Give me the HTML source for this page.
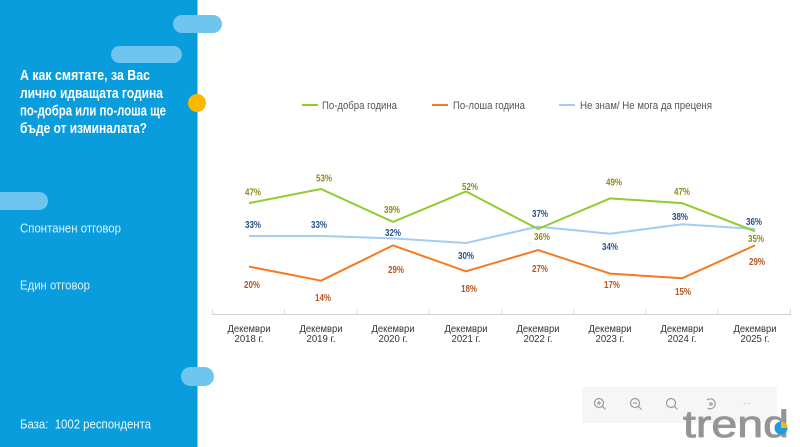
<!DOCTYPE html>
<html><head><meta charset="utf-8"><style>
html,body{margin:0;padding:0;background:#fff;}
svg{display:block;}
.t{font-family:"Liberation Sans Narrow","Liberation Sans","Noto Sans CJK SC",sans-serif;}
</style></head><body>
<svg width="800" height="447" viewBox="0 0 800 447" xmlns="http://www.w3.org/2000/svg">
<rect x="0" y="0" width="800" height="447" fill="#fff"/>
<rect x="0" y="0" width="198" height="447" fill="#0a9ddd"/>
<rect x="197" y="0" width="1" height="447" fill="#7ccdf0"/>
<!-- pills -->
<rect x="173" y="15" width="49" height="18" rx="9" fill="#6ec5ed"/>
<rect x="111" y="46" width="71" height="17" rx="8.5" fill="#6ec5ed"/>
<rect x="-10" y="192" width="58" height="18" rx="9" fill="#6ec5ed"/>
<rect x="181" y="367" width="33" height="19" rx="9.5" fill="#6ec5ed"/>
<circle cx="197" cy="103" r="9" fill="#fbb800"/>
<!-- left text -->
<g class="t" fill="#fff" font-weight="bold" font-size="14.5">
<text x="20" y="80" textLength="130" lengthAdjust="spacingAndGlyphs">А как смятате, за Вас</text>
<text x="20" y="98" textLength="143" lengthAdjust="spacingAndGlyphs">лично идващата година</text>
<text x="20" y="115.5" textLength="146" lengthAdjust="spacingAndGlyphs">по-добра или по-лоша ще</text>
<text x="20" y="133" textLength="127" lengthAdjust="spacingAndGlyphs">бъде от изминалата?</text>
</g>
<g class="t" fill="#d8effb" font-size="12.5">
<text x="20" y="232.5" textLength="101" lengthAdjust="spacingAndGlyphs">Спонтанен отговор</text>
<text x="20" y="289.5" textLength="70" lengthAdjust="spacingAndGlyphs">Един отговор</text>
</g>
<text class="t" x="20" y="428.5" fill="#eef8fd" font-size="12.5" textLength="131" lengthAdjust="spacingAndGlyphs">База:&#160; 1002 респондента</text>
<!-- legend -->
<g stroke-width="2">
<line x1="302" y1="105" x2="318" y2="105" stroke="#8fcc2e"/>
<line x1="432" y1="105" x2="448" y2="105" stroke="#f57a22"/>
<line x1="559" y1="105" x2="575" y2="105" stroke="#a3cdf6"/>
</g>
<g class="t" fill="#555" font-size="11">
<text x="322" y="109" textLength="75" lengthAdjust="spacingAndGlyphs">По-добра година</text>
<text x="453" y="109" textLength="72" lengthAdjust="spacingAndGlyphs">По-лоша година</text>
<text x="580" y="109" textLength="132" lengthAdjust="spacingAndGlyphs">Не знам/ Не мога да преценя</text>
</g>
<!-- axis -->
<line x1="212" y1="314.5" x2="791" y2="314.5" stroke="#cfcfcf" stroke-width="1"/>
<g stroke="#dcdcdc" stroke-width="1">
<line x1="212.5" y1="309" x2="212.5" y2="314"/>
<line x1="284.5" y1="309" x2="284.5" y2="314"/>
<line x1="357" y1="309" x2="357" y2="314"/>
<line x1="429" y1="309" x2="429" y2="314"/>
<line x1="502" y1="309" x2="502" y2="314"/>
<line x1="574" y1="309" x2="574" y2="314"/>
<line x1="646" y1="309" x2="646" y2="314"/>
<line x1="718" y1="309" x2="718" y2="314"/>
<line x1="790.5" y1="309" x2="790.5" y2="314"/>
</g>
<g class="t" fill="#333" font-size="10.5" text-anchor="middle">
<text x="249" y="332" textLength="43" lengthAdjust="spacingAndGlyphs">Декември</text><text x="249" y="342" textLength="29" lengthAdjust="spacingAndGlyphs">2018 г.</text>
<text x="321" y="332" textLength="43" lengthAdjust="spacingAndGlyphs">Декември</text><text x="321" y="342" textLength="29" lengthAdjust="spacingAndGlyphs">2019 г.</text>
<text x="393" y="332" textLength="43" lengthAdjust="spacingAndGlyphs">Декември</text><text x="393" y="342" textLength="29" lengthAdjust="spacingAndGlyphs">2020 г.</text>
<text x="466" y="332" textLength="43" lengthAdjust="spacingAndGlyphs">Декември</text><text x="466" y="342" textLength="29" lengthAdjust="spacingAndGlyphs">2021 г.</text>
<text x="538" y="332" textLength="43" lengthAdjust="spacingAndGlyphs">Декември</text><text x="538" y="342" textLength="29" lengthAdjust="spacingAndGlyphs">2022 г.</text>
<text x="610" y="332" textLength="43" lengthAdjust="spacingAndGlyphs">Декември</text><text x="610" y="342" textLength="29" lengthAdjust="spacingAndGlyphs">2023 г.</text>
<text x="682" y="332" textLength="43" lengthAdjust="spacingAndGlyphs">Декември</text><text x="682" y="342" textLength="29" lengthAdjust="spacingAndGlyphs">2024 г.</text>
<text x="755" y="332" textLength="43" lengthAdjust="spacingAndGlyphs">Декември</text><text x="755" y="342" textLength="29" lengthAdjust="spacingAndGlyphs">2025 г.</text>
</g>
<!-- series -->
<g fill="none" stroke-width="2" stroke-linejoin="round">
<polyline stroke="#a3cdf6" points="249,236 321,236 393,238.4 466,243 538,226.6 610,233.7 682,224.3 755,229"/>
<polyline stroke="#f57a22" points="249,266.6 321,280.7 393,245.4 466,271.3 538,250.1 610,273.6 682,278.3 755,245.4"/>
<polyline stroke="#8fcc2e" points="249,203.1 321,189 393,221.9 466,191.4 538,229 610,198.4 682,203.1 755,231.3"/>
</g>
<g class="t" font-size="10" font-weight="bold" text-anchor="middle">
<g fill="#8d8a1c">
<text x="253" y="195.5" textLength="16" lengthAdjust="spacingAndGlyphs">47%</text>
<text x="324" y="181.5" textLength="16" lengthAdjust="spacingAndGlyphs">53%</text>
<text x="392" y="213" textLength="16" lengthAdjust="spacingAndGlyphs">39%</text>
<text x="470" y="190" textLength="16" lengthAdjust="spacingAndGlyphs">52%</text>
<text x="542" y="240" textLength="16" lengthAdjust="spacingAndGlyphs">36%</text>
<text x="614" y="185.5" textLength="16" lengthAdjust="spacingAndGlyphs">49%</text>
<text x="682" y="195" textLength="16" lengthAdjust="spacingAndGlyphs">47%</text>
<text x="756" y="242" textLength="16" lengthAdjust="spacingAndGlyphs">35%</text>
</g>
<g fill="#2a5185">
<text x="253" y="228" textLength="16" lengthAdjust="spacingAndGlyphs">33%</text>
<text x="319" y="228" textLength="16" lengthAdjust="spacingAndGlyphs">33%</text>
<text x="393" y="236" textLength="16" lengthAdjust="spacingAndGlyphs">32%</text>
<text x="466" y="259" textLength="16" lengthAdjust="spacingAndGlyphs">30%</text>
<text x="540" y="217" textLength="16" lengthAdjust="spacingAndGlyphs">37%</text>
<text x="610" y="250" textLength="16" lengthAdjust="spacingAndGlyphs">34%</text>
<text x="680" y="220" textLength="16" lengthAdjust="spacingAndGlyphs">38%</text>
<text x="754" y="225" textLength="16" lengthAdjust="spacingAndGlyphs">36%</text>
</g>
<g fill="#b8541f">
<text x="252" y="288" textLength="16" lengthAdjust="spacingAndGlyphs">20%</text>
<text x="323" y="301" textLength="16" lengthAdjust="spacingAndGlyphs">14%</text>
<text x="396" y="273" textLength="16" lengthAdjust="spacingAndGlyphs">29%</text>
<text x="469" y="292" textLength="16" lengthAdjust="spacingAndGlyphs">18%</text>
<text x="540" y="272" textLength="16" lengthAdjust="spacingAndGlyphs">27%</text>
<text x="612" y="288" textLength="16" lengthAdjust="spacingAndGlyphs">17%</text>
<text x="683" y="295" textLength="16" lengthAdjust="spacingAndGlyphs">15%</text>
<text x="757" y="265" textLength="16" lengthAdjust="spacingAndGlyphs">29%</text>
</g>
</g>
<!-- toolbar -->
<rect x="582" y="387" width="195" height="36" fill="#f6f6f6"/>
<g fill="none" stroke="#9a9a9a" stroke-width="1.2">
<circle cx="599" cy="403" r="4.5"/><line x1="602.3" y1="406.3" x2="605.5" y2="409.5"/><line x1="597" y1="403" x2="601" y2="403"/><line x1="599" y1="401" x2="599" y2="405"/>
<circle cx="635" cy="403" r="4.5"/><line x1="638.3" y1="406.3" x2="641.5" y2="409.5"/><line x1="633" y1="403" x2="637" y2="403"/>
<circle cx="671" cy="403" r="4.5"/><line x1="674.3" y1="406.3" x2="677.5" y2="409.5"/>
<path d="M707 400 A5 5 0 1 1 707.5 408"/><circle cx="711" cy="404" r="1.2"/>
</g>
<text x="747" y="406" fill="#aaa" font-size="8" font-family="Liberation Sans, sans-serif" text-anchor="middle">···</text>
<!-- logo -->
<text x="683" y="437" fill="#959595" stroke="#959595" stroke-width="0.8" font-family="Liberation Sans, sans-serif" font-size="38" textLength="106" lengthAdjust="spacingAndGlyphs">trend</text>
<circle cx="781" cy="428" r="6.5" fill="#1e9be0"/>
<path d="M781 428 L781 421.5 A6.5 6.5 0 0 1 787.5 428 Z" fill="#fbb800"/>
</svg>
</body></html>
